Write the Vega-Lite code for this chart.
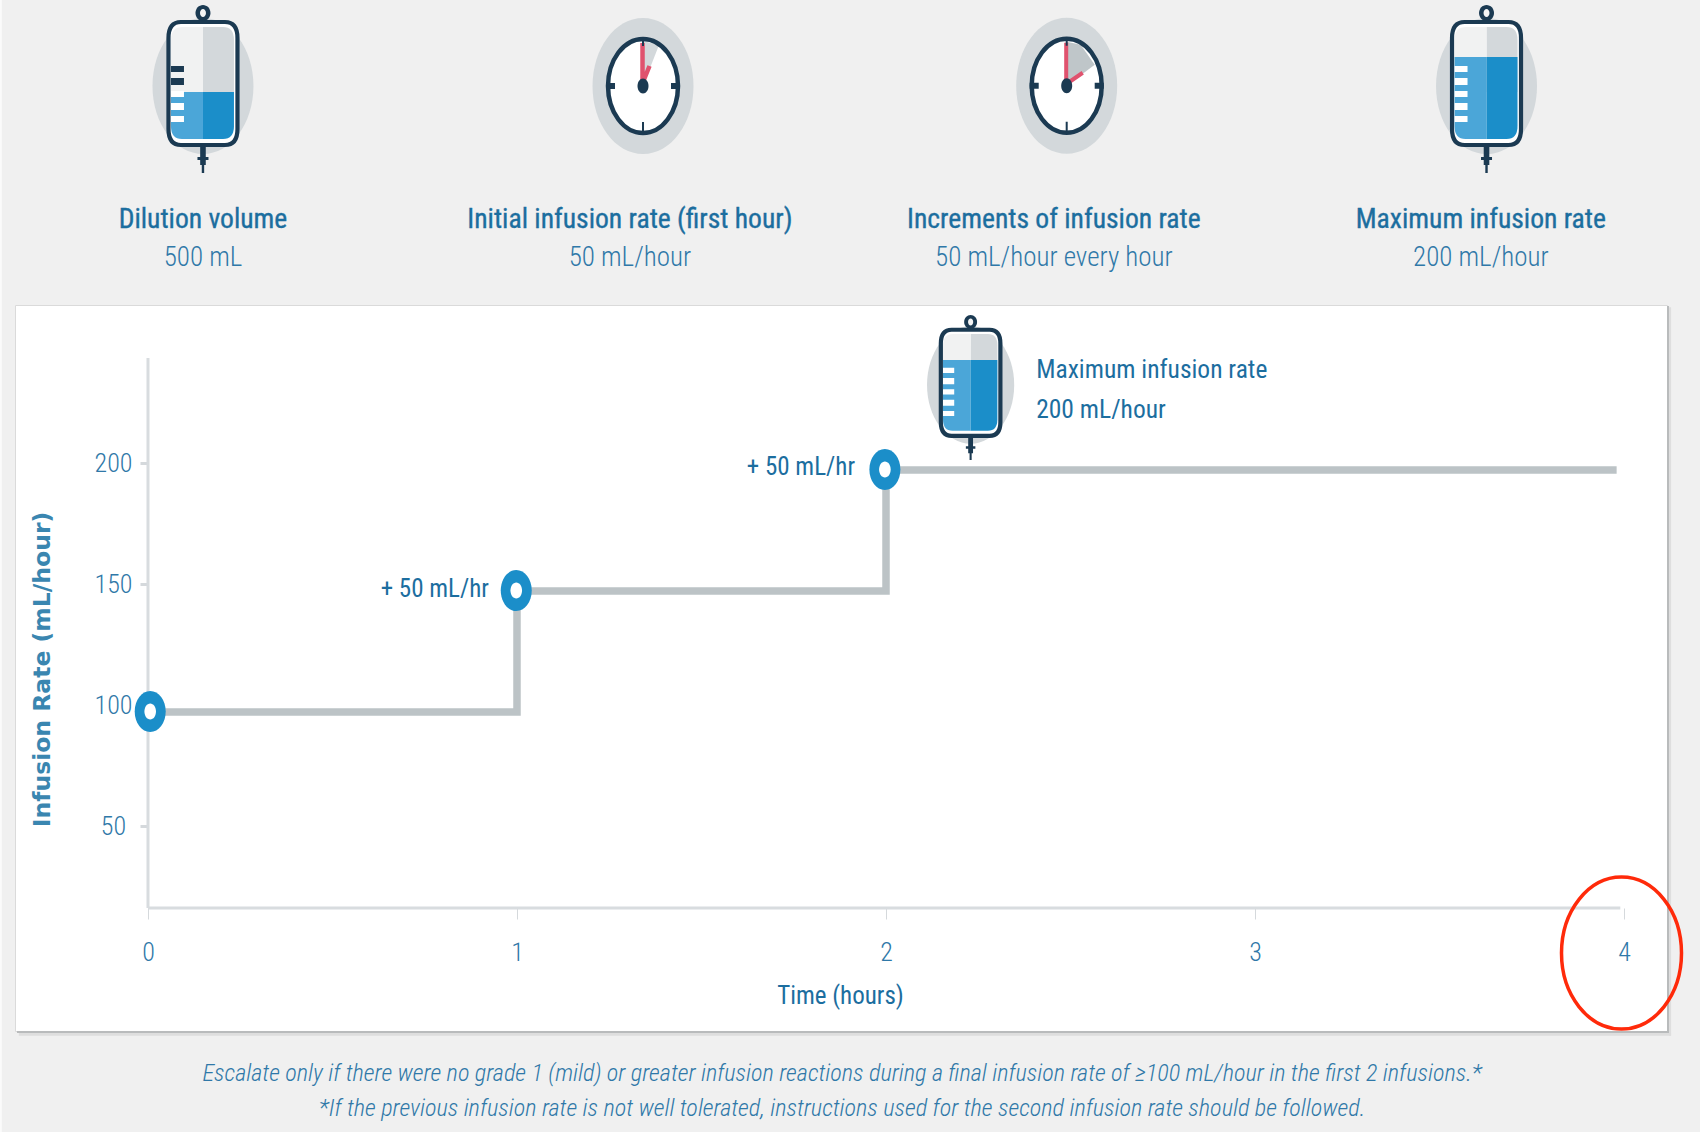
{
  "$schema": "https://vega.github.io/schema/vega-lite/v6.json",
  "autosize": "none",
  "width": 1652,
  "height": 726,
  "padding": {"left": 15, "top": 305, "right": 33, "bottom": 101},
  "background": "#F0F0F0",
  "view": {"fill": "#FFFFFF", "stroke": "#DADADA"},
  "config": {
    "text": {"font": "Roboto Condensed", "fontWeight": 300},
    "axis": {"grid": false, "labelFont": "Roboto Condensed", "labelFontWeight": 300, "labelFontSize": 26, "labelColor": "#2F78A8", "domain": false, "tickColor": "#D5D9DC"}
  },
  "datasets": {
    "edges": [
      {"hour": -0.401, "hourEnd": -0.396, "rate": 393.8, "rateEnd": -74, "tone": "page"},
      {"hour": 4.1165, "hourEnd": 4.122, "rate": 267.4, "rateEnd": -33.0, "tone": "dark"},
      {"hour": -0.355, "hourEnd": 4.122, "rate": -32.2, "rateEnd": -33.0, "tone": "dark"},
      {"hour": 4.122, "hourEnd": 4.1275, "rate": 266.9, "rateEnd": -34.2, "tone": "soft"},
      {"hour": -0.35, "hourEnd": 4.1275, "rate": -33.0, "rateEnd": -34.2, "tone": "soft"}
    ],
    "axisLines": [
      {"hour": 0, "hourEnd": 0, "rate": 18.6, "rateEnd": 245.9},
      {"hour": 0, "hourEnd": 3.99, "rate": 18.6, "rateEnd": 18.6}
    ],
    "steps": [
      {"hour": 0, "rate": 100},
      {"hour": 1, "rate": 150},
      {"hour": 2, "rate": 200},
      {"hour": 3.98, "rate": 200}
    ],
    "escalations": [
      {"hour": 0.006, "rate": 100},
      {"hour": 0.998, "rate": 150},
      {"hour": 1.997, "rate": 200}
    ],
    "bags": [
      {"hour": 0.149, "rate": 358.7, "level": "half", "setting": "header"},
      {"hour": 3.6274, "rate": 358.7, "level": "full", "setting": "header"},
      {"hour": 2.2293, "rate": 235.1, "level": "full", "setting": "card"}
    ],
    "clocks": [
      {"hour": 1.3415, "rate": 358.3, "stage": "initial"},
      {"hour": 2.4897, "rate": 358.4, "stage": "increment"}
    ],
    "headings": [
      {"hour": 0.149, "rate": 303.0, "label": "Dilution volume"},
      {"hour": 1.306, "rate": 303.0, "label": "Initial infusion rate (first hour)"},
      {"hour": 2.455, "rate": 303.0, "label": "Increments of infusion rate"},
      {"hour": 3.612, "rate": 303.0, "label": "Maximum infusion rate"}
    ],
    "values": [
      {"hour": 0.149, "rate": 287.3, "label": "500 mL"},
      {"hour": 1.306, "rate": 287.3, "label": "50 mL/hour"},
      {"hour": 2.455, "rate": 287.3, "label": "50 mL/hour every hour"},
      {"hour": 3.612, "rate": 287.3, "label": "200 mL/hour"}
    ],
    "maxNote": [
      {"hour": 2.407, "rate": 241.0, "label": "Maximum infusion rate"},
      {"hour": 2.407, "rate": 224.5, "label": "200 mL/hour"}
    ],
    "stepNotes": [
      {"hour": 0.924, "rate": 150.4, "label": "+ 50 mL/hr"},
      {"hour": 1.916, "rate": 200.8, "label": "+ 50 mL/hr"}
    ],
    "footnotes": [
      {"hour": 1.881, "rate": -49.9, "label": "Escalate only if there were no grade 1 (mild) or greater infusion reactions during a final infusion rate of ≥100 mL/hour in the first 2 infusions.*"},
      {"hour": 1.881, "rate": -64.5, "label": "*If the previous infusion rate is not well tolerated, instructions used for the second infusion rate should be followed."}
    ],
    "callout": [{"hour": 3.9932, "rate": 0}]
  },
  "encoding": {
    "x": {
      "field": "hour",
      "type": "quantitative",
      "scale": {"domain": [-0.3604, 4.1165], "nice": false, "zero": false},
      "axis": {
        "title": "Time (hours)",
        "values": [0, 1, 2, 3, 4],
        "format": "d",
        "offset": -123,
        "tickSize": 11,
        "tickWidth": 1,
        "labelPadding": 20,
        "titleFont": "Roboto Condensed",
        "titleFontSize": 25,
        "titleFontWeight": 400,
        "titleColor": "#1C6E9F",
        "titleX": 825,
        "titleY": 87,
        "titleBaseline": "middle"
      }
    },
    "y": {
      "field": "rate",
      "type": "quantitative",
      "scale": {"domain": [-32.2, 267.8], "nice": false, "zero": false},
      "axis": {
        "title": "Infusion Rate (mL/hour)",
        "values": [50, 100, 150, 200],
        "offset": -133,
        "tickOffset": -6,
        "tickSize": 8,
        "tickWidth": 3,
        "labelAlign": "center",
        "labelPadding": 27,
        "titleFont": "DejaVu Sans",
        "titleFontSize": 23.5,
        "titleFontWeight": "bold",
        "titleColor": "#3A86B0",
        "titleAngle": -90,
        "titleX": -106,
        "titleY": 364,
        "titleBaseline": "middle"
      }
    }
  },
  "layer": [
    {
      "data": {"name": "edges"},
      "mark": {"type": "rect"},
      "encoding": {
        "x2": {"field": "hourEnd"},
        "y2": {"field": "rateEnd"},
        "fill": {"condition": [
          {"test": "datum.tone === 'page'", "value": "#FBFBFB"},
          {"test": "datum.tone === 'dark'", "value": "#B9BBBC"}
        ], "value": "#DEDEDE"}
      }
    },
    {
      "data": {"name": "axisLines"},
      "mark": {"type": "rule", "stroke": "#D8DCDF", "strokeWidth": 3},
      "encoding": {"x2": {"field": "hourEnd"}, "y2": {"field": "rateEnd"}}
    },
    {
      "data": {"name": "steps"},
      "mark": {"type": "line", "interpolate": "step-after", "stroke": "#BCC3C6", "strokeWidth": 7.5, "strokeJoin": "miter", "yOffset": 1}
    },
    {
      "data": {"name": "escalations"},
      "layer": [
        {"mark": {"type": "point", "shape": "M-15.5,0A15.5,20.5 0 1 1 15.5,0A15.5,20.5 0 1 1 -15.5,0Z", "size": 4, "filled": true, "fill": "#1B8EC9", "opacity": 1, "yOffset": 0.5}},
        {"mark": {"type": "point", "shape": "M-5.8,0A5.8,8 0 1 1 5.8,0A5.8,8 0 1 1 -5.8,0Z", "size": 4, "filled": true, "fill": "#FFFFFF", "opacity": 1, "yOffset": 0.5}}
      ]
    },
    {
      "data": {"name": "bags"},
      "encoding": {
        "size": {"condition": {"test": "datum.setting === 'card'", "value": 2.98}, "value": 4}
      },
      "layer": [
        {"mark": {"type": "point", "shape": "M-50.5,1A50.5,68 0 1 1 50.5,1A50.5,68 0 1 1 -50.5,1Z", "filled": true, "fill": "#D3D8DB", "opacity": 1}},
        {"mark": {"type": "point", "shape": "M-22,-63H22Q34.5,-63 34.5,-47V44Q34.5,60 22,60H-22Q-34.5,60 -34.5,44V-47Q-34.5,-63 -22,-63Z", "filled": true, "fill": "#FFFFFF", "opacity": 1}},
        {"mark": {"type": "point", "shape": "M0,-58H20Q31,-58 31,-45V7H0Z", "filled": true, "fill": "#D3D8DB", "opacity": 1}},
        {"mark": {"type": "point", "shape": "M-32,-45Q-32,-58 -20,-58H0V7H-32Z", "filled": true, "fill": "#F1F2F2", "opacity": 1}},
        {
          "transform": [{"filter": "datum.level === 'half'"}],
          "layer": [
            {"mark": {"type": "point", "shape": "M-32,7H0V54H-21Q-32,54 -32,41Z", "filled": true, "fill": "#4BA6D8", "opacity": 1}},
            {"mark": {"type": "point", "shape": "M0,7H31V41Q31,54 20,54H0Z", "filled": true, "fill": "#1B8EC9", "opacity": 1}}
          ]
        },
        {
          "transform": [{"filter": "datum.level === 'full'"}],
          "layer": [
            {"mark": {"type": "point", "shape": "M-32,-28H0V54H-21Q-32,54 -32,41Z", "filled": true, "fill": "#4BA6D8", "opacity": 1}},
            {"mark": {"type": "point", "shape": "M0,-28H31V41Q31,54 20,54H0Z", "filled": true, "fill": "#1B8EC9", "opacity": 1}}
          ]
        },
        {"mark": {"type": "point", "shape": "M-32,6H-19V12H-32ZM-32,18H-19V25H-32ZM-32,31H-19V37H-32Z", "filled": true, "fill": "#FFFFFF", "opacity": 1}},
        {
          "mark": {"type": "point", "shape": "M-32,-19H-19V-13H-32ZM-32,-7H-19V0H-32Z", "filled": true, "opacity": 1},
          "encoding": {"fill": {"condition": {"test": "datum.level === 'half'", "value": "#1B3A52"}, "value": "#FFFFFF"}}
        },
        {"mark": {"type": "point", "shape": "M-22,-63H22Q34.5,-63 34.5,-47V44Q34.5,60 22,60H-22Q-34.5,60 -34.5,44V-47Q-34.5,-63 -22,-63Z", "filled": false, "fill": "transparent", "stroke": "#1B3A52", "strokeWidth": 4.2, "opacity": 1}},
        {"mark": {"type": "point", "shape": "M-7.5,-72A7.5,8 0 1 1 7.5,-72A7.5,8 0 1 1 -7.5,-72Z", "filled": true, "fill": "#1B3A52", "opacity": 1}},
        {"mark": {"type": "point", "shape": "M-3,-72A3,4 0 1 1 3,-72A3,4 0 1 1 -3,-72Z", "filled": true, "fill": "#F4F5F5", "opacity": 1}},
        {"mark": {"type": "point", "shape": "M-1.2,60H1.2V88H-1.2ZM-2.8,62H2.8V72H5.5V75H2.8V80H-2.8V75H-5.5V72H-2.8Z", "filled": true, "fill": "#1B3A52", "opacity": 1}}
      ]
    },
    {
      "data": {"name": "clocks"},
      "encoding": {"size": {"value": 4}},
      "layer": [
        {"mark": {"type": "point", "shape": "M-50.5,0A50.5,68 0 1 1 50.5,0A50.5,68 0 1 1 -50.5,0Z", "filled": true, "fill": "#D3D8DB", "opacity": 1}},
        {"mark": {"type": "point", "shape": "M-35,0A35,47 0 1 1 35,0A35,47 0 1 1 -35,0Z", "filled": true, "fill": "#FFFFFF", "opacity": 1}},
        {
          "transform": [{"filter": "datum.stage === 'initial'"}],
          "layer": [
            {"mark": {"type": "point", "shape": "M0,0L0,-45L16,-41Z", "filled": true, "fill": "#D3D8DB", "opacity": 1}},
            {"mark": {"type": "point", "shape": "M-0.5,-4L-0.5,-43M0,-4L6.5,-20", "filled": false, "fill": "transparent", "stroke": "#E0526E", "strokeWidth": 4.5, "opacity": 1}}
          ]
        },
        {
          "transform": [{"filter": "datum.stage === 'increment'"}],
          "layer": [
            {"mark": {"type": "point", "shape": "M0,0L0,-44L14,-41L28,-21Z", "filled": true, "fill": "#BFC6C9", "opacity": 1}},
            {"mark": {"type": "point", "shape": "M-0.5,-4L-0.5,-43M0,-2L16,-13", "filled": false, "fill": "transparent", "stroke": "#E0526E", "strokeWidth": 4, "opacity": 1}}
          ]
        },
        {"mark": {"type": "point", "shape": "M-37,-3H-28V3H-37ZM28,-3H37V3H28ZM-1,36H1V47H-1ZM-1,-47H1V-40H-1Z", "filled": true, "fill": "#1B3A52", "opacity": 1}},
        {"mark": {"type": "point", "shape": "M-35,0A35,47 0 1 1 35,0A35,47 0 1 1 -35,0Z", "filled": false, "fill": "transparent", "stroke": "#1B3A52", "strokeWidth": 4.5, "opacity": 1}},
        {"mark": {"type": "point", "shape": "M-5.5,0A5.5,7.5 0 1 1 5.5,0A5.5,7.5 0 1 1 -5.5,0Z", "filled": true, "fill": "#1B3A52", "opacity": 1}}
      ]
    },
    {
      "data": {"name": "headings"},
      "mark": {"type": "text", "fontSize": 27.6, "fontWeight": 400, "fill": "#1C6E9F", "stroke": "#1C6E9F", "strokeWidth": 0.35, "align": "center", "baseline": "middle"},
      "encoding": {"text": {"field": "label"}}
    },
    {
      "data": {"name": "values"},
      "mark": {"type": "text", "fontSize": 27, "fill": "#2F78A8", "align": "center", "baseline": "middle"},
      "encoding": {"text": {"field": "label"}}
    },
    {
      "data": {"name": "maxNote"},
      "mark": {"type": "text", "fontSize": 25.5, "fontWeight": 400, "fill": "#1C6E9F", "align": "left", "baseline": "middle"},
      "encoding": {"text": {"field": "label"}}
    },
    {
      "data": {"name": "stepNotes"},
      "mark": {"type": "text", "fontSize": 25, "fontWeight": 400, "fill": "#1C6E9F", "align": "right", "baseline": "middle"},
      "encoding": {"text": {"field": "label"}}
    },
    {
      "data": {"name": "footnotes"},
      "mark": {"type": "text", "fontSize": 24.2, "fontStyle": "italic", "fill": "#2F78A8", "align": "center", "baseline": "middle"},
      "encoding": {"text": {"field": "label"}}
    },
    {
      "data": {"name": "callout"},
      "mark": {"type": "point", "shape": "M-60,0A60,76 0 1 1 60,0A60,76 0 1 1 -60,0Z", "size": 4, "filled": false, "fill": "transparent", "stroke": "#FF2A0A", "strokeWidth": 3.5, "opacity": 1}
    }
  ]
}
